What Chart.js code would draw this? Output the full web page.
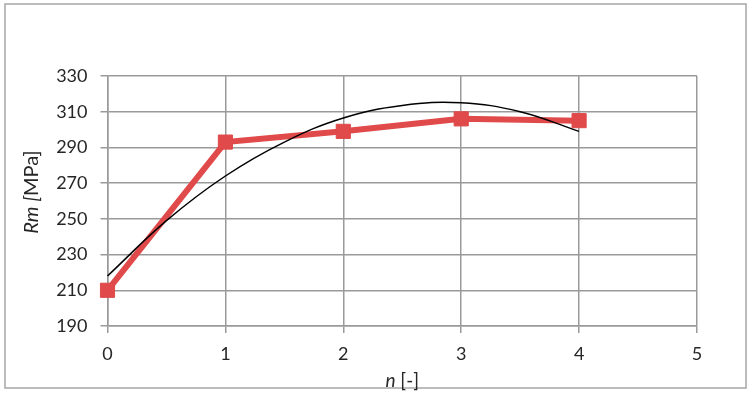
<!DOCTYPE html>
<html>
<head>
<meta charset="utf-8">
<script src="https://cdn.jsdelivr.net/npm/chart.js@4/dist/chart.umd.min.js"></script>
<style>
    html, body { margin: 0; padding: 0; background: #fff; }
    #wrap { width: 751px; height: 393px; position: relative; }
</style>
</head>
<body>
<div id="wrap"><canvas id="rmChart"></canvas></div>
<script>
// --- datos --- //
const nValues = [0, 1, 2, 3, 4];
const rmValues = [210, 293, 299, 306, 305];

// línea de tendencia
const trendX = [0, 0.5, 1, 1.5, 2, 2.5, 3, 3.5, 4];
const trendY = [218, 249, 274, 293, 306.5, 313.5, 315, 310, 299];

const xTicks = [0, 1, 2, 3, 4, 5];
const yTicks = [190, 210, 230, 250, 270, 290, 310, 330];

const colors = {
    red: '#E04A4A',
    trend: '#000000',
    grid: '#9A9A9A',
    text: '#262626',
    frame: '#A6A6A6'
};
const fontFamily = 'Lato, "Liberation Sans", sans-serif';

// Helper: texto con partes en estilos distintos
function drawParts(ctx, parts, cx, cy) {
    let w = 0;
    parts.forEach(([f, t]) => { ctx.font = f; w += ctx.measureText(t).width; });
    let x = cx - w / 2;
    ctx.textAlign = 'left';
    parts.forEach(([f, t]) => {
        ctx.font = f;
        ctx.fillText(t, x, cy);
        x += ctx.measureText(t).width;
    });
}

// Plugin: marco exterior + títulos de ejes
const frameAndTitles = {
    id: 'frameAndTitles',
    afterDraw(chart) {
        const { ctx, chartArea } = chart;
        ctx.save();
        ctx.strokeStyle = colors.frame;
        ctx.lineWidth = 1.5;
        ctx.strokeRect(5, 4, 741, 384);

        ctx.fillStyle = colors.text;
        ctx.textBaseline = 'middle';

        drawParts(ctx, [
            ['italic 19px ' + fontFamily, 'n'],
            ['19px ' + fontFamily, ' [-]']
        ], (chartArea.left + chartArea.right) / 2, 381);

        ctx.translate(32, 192);
        ctx.rotate(-Math.PI / 2);
        drawParts(ctx, [
            ['italic 20px ' + fontFamily, 'Rm ['],
            ['20px ' + fontFamily, 'MPa]']
        ], 0, 0);
        ctx.restore();
    }
};

const ctx = document.getElementById('rmChart');

new Chart(ctx, {
    type: 'line',
    data: {
        datasets: [
            {
                label: 'Tendencia',
                data: trendX.map((v, i) => ({ x: v, y: trendY[i] })),
                borderColor: colors.trend,
                borderWidth: 1.5,
                pointRadius: 0,
                tension: 0.4,
                fill: false,
                clip: false,
                order: 0
            },
            {
                label: 'Rm',
                data: nValues.map((v, i) => ({ x: v, y: rmValues[i] })),
                borderColor: colors.red,
                backgroundColor: colors.red,
                borderWidth: 6,
                pointStyle: 'rect',
                pointRadius: 10,
                pointBorderWidth: 1,
                pointBackgroundColor: colors.red,
                pointBorderColor: colors.red,
                tension: 0,
                fill: false,
                clip: false,
                order: 1
            }
        ]
    },
    plugins: [frameAndTitles],
    options: {
        responsive: true,
        maintainAspectRatio: false,
        animation: false,
        layout: { padding: { left: 0, right: 54, top: 76, bottom: 0 } },
        plugins: {
            legend: { display: false },
            tooltip: { enabled: false }
        },
        scales: {
            x: {
                type: 'linear',
                min: 0,
                max: 5,
                afterBuildTicks: (axis) => { axis.ticks = xTicks.map(v => ({ value: v })); },
                afterFit: (axis) => { axis.height = 67; },
                grid: { color: colors.grid, lineWidth: 1.5, tickLength: 7, tickColor: colors.grid },
                border: { color: colors.grid, width: 1.5 },
                ticks: {
                    color: colors.text,
                    font: { family: fontFamily, size: 18 },
                    padding: 10,
                    maxRotation: 0
                }
            },
            y: {
                min: 190,
                max: 330,
                afterBuildTicks: (axis) => { axis.ticks = yTicks.map(v => ({ value: v })); },
                afterFit: (axis) => { axis.width = 107.5; },
                grid: { color: colors.grid, lineWidth: 1.5, tickLength: 7, tickColor: colors.grid },
                border: { color: colors.grid, width: 1.5 },
                ticks: {
                    color: colors.text,
                    font: { family: fontFamily, size: 18 },
                    padding: 13
                }
            }
        }
    }
});
</script>
</body>
</html>
